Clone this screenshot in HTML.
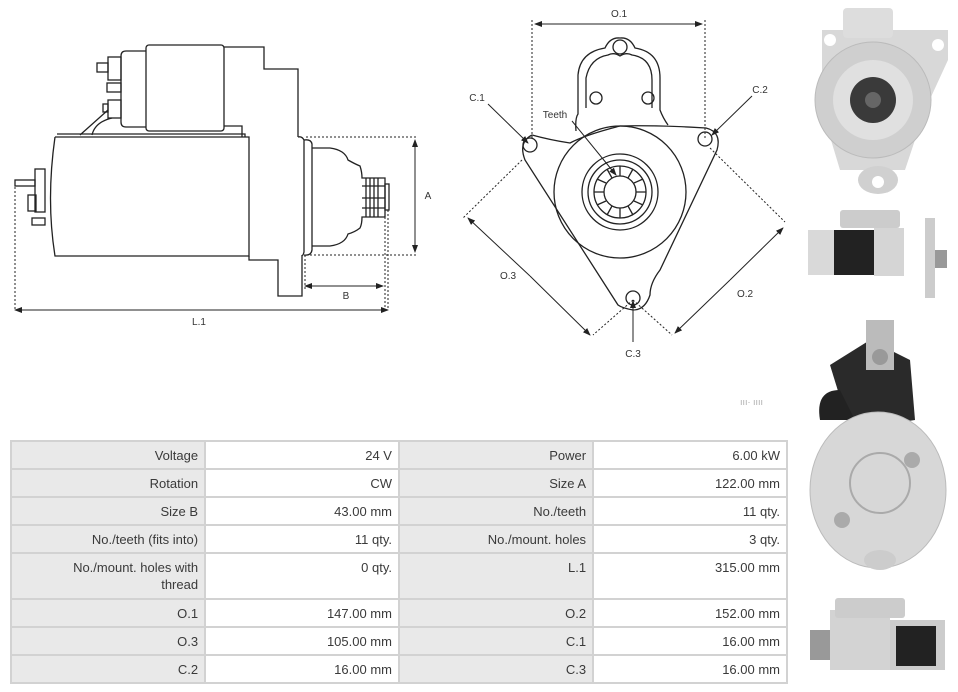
<!DOCTYPE html>
<html><head><meta charset="utf-8"><style>
body{margin:0;background:#fff;width:958px;height:692px;overflow:hidden;position:relative;font-family:"Liberation Sans",sans-serif}
svg{position:absolute;left:0;top:0}
table{position:absolute;left:10px;top:440px;border-collapse:collapse;width:778px;font-size:13px;color:#3a3a3a}
td{border:2px solid #d2d2d2;text-align:right;padding:0 6px;height:26px;vertical-align:middle}
td.l{background:#e9e9e9;width:181px}
td.v{background:#fff;width:181px}
tr.tall td{height:39px;vertical-align:top;padding-top:5px;line-height:17px}
</style></head><body>
<svg width="958" height="692" viewBox="0 0 958 692">
<defs><marker id="a" markerWidth="8" markerHeight="6" refX="7" refY="3" orient="auto"><path d="M0,0L8,3L0,6z" fill="#222"/></marker></defs>
<g fill="none" stroke="#222" stroke-width="1.3">
<rect x="146" y="45" width="78" height="86" rx="3"/>
<path d="M146,51H126Q121,51 121,56V122Q121,127 126,127H146"/>
<rect x="108" y="57" width="13" height="23"/><rect x="97" y="63" width="11" height="9"/>
<rect x="107" y="83" width="14" height="9"/>
<rect x="108" y="100" width="13" height="18"/><rect x="103" y="104" width="5" height="8"/>
<path d="M108,110L80,135M112,118Q95,122 92,135"/>
<path d="M224,47H264V69H298V137M224,126H242V137"/>
<path d="M57,134H245V137M55,137H249V256H55Q46,200 55,137"/>
<path d="M249,256V260H278V296H302V255"/>
<path d="M298,137Q302,136 304,140V252Q303,256 302,255"/>
<path d="M304,140Q311,139 312,144V250Q311,256 304,255"/>
<path d="M312,148H330Q345,150 348,160Q355,164 360,166Q362,172 362,178H385V217H362Q362,224 360,228Q355,232 348,234Q345,244 330,246H312"/>
<path d="M366,178V217M370,178V217M374,178V217M378,178V217M362,186H385M362,198H385M362,208H385"/>
<rect x="385" y="184" width="4" height="26"/>
<rect x="35" y="169" width="10" height="43"/><rect x="15" y="180" width="20" height="6"/>
<rect x="28" y="195" width="8" height="16"/><rect x="32" y="218" width="13" height="7"/>
</g>
<g fill="none" stroke="#222" stroke-width="1" stroke-dasharray="2,2">
<path d="M306,137H417M306,255H417M385,217V310M388,210V310M15,183V310M305,255V290"/>
<path d="M532,20V140M705,20V140M522,160L463,218M710,148L785,222M633,300L593,335M633,300L672,335"/>
</g>
<g stroke="#222" stroke-width="1" fill="none" marker-end="url(#a)">
<path d="M415,195V140"/><path d="M415,195V252"/>
<path d="M345,286H305"/><path d="M345,286H383"/>
<path d="M200,310H15"/><path d="M200,310H388"/>
<path d="M619,24H535"/><path d="M619,24H702"/>
<path d="M530,276L468,218"/><path d="M530,276L590,335"/>
<path d="M730,280L783,228"/><path d="M730,280L675,333"/>
<path d="M488,104L528,143"/><path d="M752,96L712,135"/><path d="M633,342V301"/><path d="M572,121L616,175"/>
</g>
<g fill="none" stroke="#222" stroke-width="1.3">
<path d="M576,131Q575,118 578,114V75Q580,52 605,48Q610,37 620,38Q630,37 635,48Q660,52 660,78V110Q663,118 668,125"/>
<path d="M586,108V78Q590,58 608,55Q614,52 620,56Q626,52 632,55Q652,58 652,80V108"/>
<circle cx="620" cy="47" r="7"/><circle cx="596" cy="98" r="6"/><circle cx="648" cy="98" r="6"/>
<path d="M532,135Q550,140 570,143Q585,135 620,126Q660,125 706,128Q722,132 717,150L660,270Q650,283 650,295Q645,310 633,310Q622,308 618,305L525,160Q518,142 532,135"/>
<circle cx="530" cy="145" r="7"/><circle cx="705" cy="139" r="7"/><circle cx="633" cy="298" r="7"/>
<circle cx="620" cy="192" r="66"/><circle cx="620" cy="192" r="38"/><circle cx="620" cy="192" r="32"/>
<circle cx="620" cy="192" r="26"/><circle cx="620" cy="192" r="16"/>
<path d="M620,166V176M633,169L628,178M643,179L634,183M646,192H636M643,205L634,201M633,215L628,206M620,218V208M607,215L612,206M597,205L606,201M594,192H604M597,179L606,183M607,169L612,178"/>
</g>
<g font-size="10" fill="#333" text-anchor="middle">
<text x="428" y="199">A</text><text x="346" y="299">B</text><text x="199" y="325">L.1</text>
<text x="619" y="17">O.1</text><text x="477" y="101">C.1</text><text x="760" y="93">C.2</text>
<text x="555" y="118">Teeth</text><text x="508" y="279">O.3</text><text x="745" y="297">O.2</text><text x="633" y="357">C.3</text>
</g>
<text x="740" y="405" font-size="9" fill="#aaa">ııı· ıııı</text>
<g>
<path d="M822,30H948V60L925,110L905,170H840L822,110Z" fill="#d8d8d8"/>
<circle cx="873" cy="100" r="58" fill="#cfcfcf" stroke="#bbb"/>
<circle cx="873" cy="100" r="40" fill="#e0e0e0"/>
<circle cx="873" cy="100" r="23" fill="#3a3a3a"/><circle cx="873" cy="100" r="8" fill="#666"/>
<circle cx="830" cy="40" r="6" fill="#fff"/><circle cx="938" cy="45" r="6" fill="#fff"/>
<ellipse cx="878" cy="180" rx="20" ry="14" fill="#d0d0d0"/><circle cx="878" cy="182" r="6" fill="#fff"/>
<rect x="843" y="8" width="50" height="30" rx="4" fill="#ddd"/>
<rect x="808" y="230" width="40" height="45" fill="#d9d9d9"/>
<rect x="834" y="230" width="40" height="45" fill="#222"/>
<rect x="874" y="228" width="30" height="48" fill="#d5d5d5"/>
<rect x="840" y="210" width="60" height="18" rx="3" fill="#ccc"/>
<rect x="925" y="218" width="10" height="80" fill="#ccc"/><rect x="935" y="250" width="12" height="18" fill="#999"/>
<path d="M830,365L870,340L910,360L915,420L850,430Z" fill="#2a2a2a"/>
<path d="M820,420Q815,390 840,390L855,420Z" fill="#222"/>
<rect x="866" y="320" width="28" height="50" fill="#bbb"/><circle cx="880" cy="357" r="8" fill="#999"/>
<ellipse cx="878" cy="490" rx="68" ry="78" fill="#d7d7d7" stroke="#bbb"/>
<circle cx="880" cy="483" r="30" fill="none" stroke="#aaa" stroke-width="2"/>
<circle cx="912" cy="460" r="8" fill="#aaa"/><circle cx="842" cy="520" r="8" fill="#aaa"/>
<ellipse cx="880" cy="560" rx="16" ry="10" fill="#ccc"/>
<rect x="830" y="610" width="60" height="60" fill="#d3d3d3"/>
<rect x="890" y="620" width="55" height="50" fill="#ccc"/>
<rect x="896" y="626" width="40" height="40" fill="#222"/>
<rect x="835" y="598" width="70" height="20" rx="3" fill="#ccc"/>
<rect x="810" y="630" width="20" height="30" fill="#999"/>
</g>
</svg>
<table>
<tr><td class="l">Voltage</td><td class="v">24 V</td><td class="l">Power</td><td class="v">6.00 kW</td></tr>
<tr><td class="l">Rotation</td><td class="v">CW</td><td class="l">Size A</td><td class="v">122.00 mm</td></tr>
<tr><td class="l">Size B</td><td class="v">43.00 mm</td><td class="l">No./teeth</td><td class="v">11 qty.</td></tr>
<tr><td class="l">No./teeth (fits into)</td><td class="v">11 qty.</td><td class="l">No./mount. holes</td><td class="v">3 qty.</td></tr>
<tr class="tall"><td class="l">No./mount. holes with<br>thread</td><td class="v">0 qty.</td><td class="l">L.1</td><td class="v">315.00 mm</td></tr>
<tr><td class="l">O.1</td><td class="v">147.00 mm</td><td class="l">O.2</td><td class="v">152.00 mm</td></tr>
<tr><td class="l">O.3</td><td class="v">105.00 mm</td><td class="l">C.1</td><td class="v">16.00 mm</td></tr>
<tr><td class="l">C.2</td><td class="v">16.00 mm</td><td class="l">C.3</td><td class="v">16.00 mm</td></tr>
</table>
</body></html>
